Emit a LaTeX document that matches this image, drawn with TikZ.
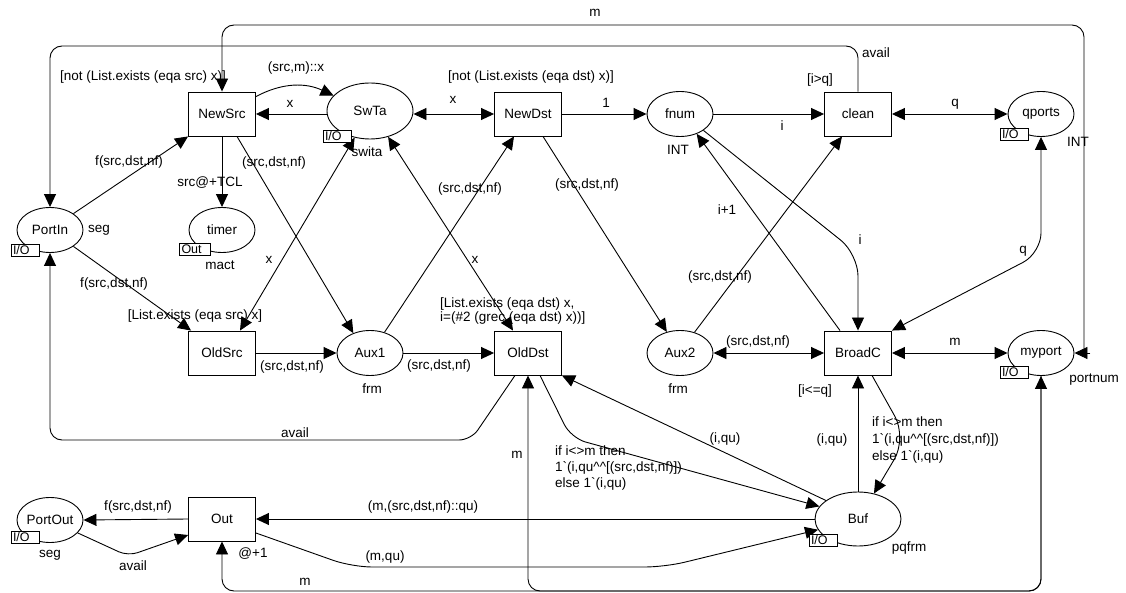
\documentclass[tikz,border=0pt]{standalone}
\usepackage{fontspec}
\setmainfont{Liberation Sans}
\usetikzlibrary{arrows.meta,shapes.geometric}
\newcommand\lblfont{\fontsize{13.5}{16}\selectfont}
\newcommand\tagfont{\fontsize{12.5}{12}\selectfont}
\begin{document}
\begin{tikzpicture}[x=1pt,y=-1pt,
  trans/.style={draw, line width=0.9pt, minimum width=67pt, minimum height=44pt, inner sep=0pt, font=\lblfont},
  place/.style={draw, ellipse, line width=0.9pt, minimum width=66pt, minimum height=45pt, inner sep=0pt, font=\lblfont},
  bigplace/.style={place, minimum width=86pt, minimum height=56pt},
  plain/.style={line width=0.9pt},
  arc/.style={line width=0.9pt, -{Triangle[length=13pt,width=12pt]}},
  arcboth/.style={line width=0.9pt, {Triangle[length=13pt,width=12pt]}-{Triangle[length=13pt,width=12pt]}},
  lbl/.style={inner sep=0pt, font=\lblfont},
  tag/.style={draw, fill=white, line width=0.8pt, inner xsep=2pt, inner ysep=0pt, minimum height=12pt, align=left, font=\tagfont}
]
\useasboundingbox (0,0) rectangle (1126,593);
\fill[white] (0,0) rectangle (1126,593);

% nodes
\node[trans] (NewSrc) at (222,114) {NewSrc};
\node[bigplace] (SwTa) at (370,111) {SwTa};
\node[trans] (NewDst) at (528,114) {NewDst};
\node[place] (fnum) at (680,114) {fnum};
\node[trans] (clean) at (858,114) {clean};
\node[place] (qports) at (1041,114) {qports};
\node[place] (PortIn) at (50,230) {PortIn};
\node[place] (timer) at (222,230) {timer};
\node[trans] (OldSrc) at (222,353) {OldSrc};
\node[place] (Aux1) at (370,353) {Aux1};
\node[trans] (OldDst) at (528,353) {OldDst};
\node[place] (Aux2) at (680,353) {Aux2};
\node[trans] (BroadC) at (858,353) {BroadC};
\node[place] (myport) at (1041,353) {myport};
\node[place] (PortOut) at (50,520) {PortOut};
\node[trans] (Out) at (222,519) {Out};
\node[bigplace, minimum height=54pt] (Buf) at (858,519) {Buf};

% connectors
\draw[arc] (SwTa.west |- NewSrc.east) -- (NewSrc.east);
\draw[arc] ([yshift=-5pt]NewSrc.north east) to[out=28,in=155] (SwTa.157);
\draw[arcboth] (SwTa.east |- NewDst.west) -- (NewDst.west);
\draw[arc] (NewDst.east) -- (fnum.west);
\draw[arc] (fnum.east) -- (clean.west);
\draw[arcboth] (clean.east) -- (qports.west);
\draw[plain, rounded corners=12pt, {Triangle[length=13pt,width=12pt]}-] (NewSrc.north) -- (222,25) -- (1084,25) -- (1084,353);
\draw[arc] ([xshift=16pt]myport.east) -- (myport.east);
\draw[arc, rounded corners=12pt] (clean.north) -- (858,46) -- (50,46) -- (PortIn.north);
\draw[arc] (PortIn.35) -- (NewSrc.south west);
\draw[arc] (NewSrc.south) -- (timer.north);
\draw[arc] ([xshift=15pt]NewSrc.south) -- (Aux1.130);
\draw[arcboth] (SwTa.240) -- ([xshift=18pt]OldSrc.north);
\draw[arcboth] (SwTa.305) -- ([xshift=-15pt]OldDst.north);
\draw[arc] (PortIn.-35) -- ([xshift=3pt]OldSrc.north west);
\draw[arc] (Aux1.55) -- ([xshift=-14pt]NewDst.south);
\draw[arc] ([xshift=15pt]NewDst.south) -- (Aux2.122);
\draw[arc] (OldSrc.east) -- (Aux1.west);
\draw[arc] (Aux1.east) -- (OldDst.west);
\draw[arc] (Aux2.55) -- ([xshift=-16pt]clean.south);
\draw[arcboth] (Aux2.east) -- (BroadC.west);
\draw[arc] ([xshift=-18pt]BroadC.north) -- (fnum.-50);
\draw[arc, rounded corners=22pt] (fnum.-35) -- (858,254) -- (BroadC.north);
\draw[arcboth, rounded corners=20pt] (qports.south) -- (1041,253) -- (BroadC.north east);
\draw[arcboth] (BroadC.east) -- (myport.west);
\draw[arcboth, rounded corners=12pt] (OldDst.south) -- (528,591) -- (1041,591) -- (myport.south);
\draw[arc, rounded corners=12pt] (myport.south) -- (1041,591) -- (222,591) -- (Out.south);
\draw[arc] (Out.west) -- (PortOut.east);
\draw[arc, rounded corners=10pt] (PortOut.-25) -- (128,556) -- ([yshift=-16pt]Out.west);
\draw[arc] (Buf.west) -- (Out.east);
\draw[arc, rounded corners=20pt] ([yshift=-14pt]Out.east) -- (352,567) -- (665,567) -- (Buf.195);
\draw[arc, rounded corners=15pt] ([xshift=12pt]OldDst.south) -- (571,438) -- (Buf.162);
\draw[arc] (Buf.150) -- (OldDst.south east);
\draw[arc] (Buf.north) -- (BroadC.south);
\draw[arc, rounded corners=25pt] ([xshift=14pt]BroadC.south) -- (907,438) -- (Buf.58);
\draw[arc, rounded corners=12pt] ([xshift=-13pt]OldDst.south) -- (471,440) -- (50,440) -- (PortIn.south);

% labels
\node[lbl] at (143,77) {[not (List.exists (eqa src) x)]};
\node[lbl] at (296,68) {(src,m)::x};
\node[lbl] at (290,104) {x};
\node[lbl] at (129,162) {f(src,dst,nf)};
\node[lbl] at (210,183) {src@+TCL};
\node[lbl] at (274,163) {(src,dst,nf)};
\node[lbl] at (367,152) {swita};
\node[lbl] at (531,77) {[not (List.exists (eqa dst) x)]};
\node[lbl] at (453,100) {x};
\node[lbl] at (606,103) {1};
\node[lbl] at (470,189) {(src,dst,nf)};
\node[lbl] at (587,185) {(src,dst,nf)};
\node[lbl] at (678,150) {INT};
\node[lbl] at (820,80) {[i>q]};
\node[lbl] at (876,53) {avail};
\node[lbl] at (955,104) {q};
\node[lbl] at (782,126) {i};
\node[lbl] at (1078,142) {INT};
\node[lbl] at (595,13) {m};
\node[lbl] at (99,230) {seg};
\node[lbl] at (220,265) {mact};
\node[lbl] at (269,260) {x};
\node[lbl] at (114,284) {f(src,dst,nf)};
\node[lbl] at (195,316) {[List.exists (eqa src) x]};
\node[lbl] at (292,367) {(src,dst,nf)};
\node[lbl] at (372,389) {frm};
\node[lbl] at (475,260) {x};
\node[lbl, align=left, anchor=west, font=\fontsize{13.5}{14.5}\selectfont] at (440,311) {[List.exists (eqa dst) x,\\i=(\#2 (grec (eqa dst) x))]};
\node[lbl] at (439,366) {(src,dst,nf)};
\node[lbl] at (727,210) {i+1};
\node[lbl] at (720,277) {(src,dst,nf)};
\node[lbl] at (758,342) {(src,dst,nf)};
\node[lbl] at (678,389) {frm};
\node[lbl] at (860,240) {i};
\node[lbl] at (1023,251) {q};
\node[lbl] at (955,342) {m};
\node[lbl] at (1094,380) {portnum};
\node[lbl] at (815,391) {[i<=q]};
\node[lbl] at (295,433) {avail};
\node[lbl] at (138,507) {f(src,dst,nf)};
\node[lbl] at (50,555) {seg};
\node[lbl] at (133,566) {avail};
\node[lbl] at (253,554) {@+1};
\node[lbl] at (305,582) {m};
\node[lbl] at (423,507) {(m,(src,dst,nf)::qu)};
\node[lbl] at (385,557) {(m,qu)};
\node[lbl] at (517,455) {m};
\node[lbl, align=left, anchor=west, font=\fontsize{13.5}{16.3}\selectfont] at (555,468) {if i<>m then\\1\textasciigrave(i,qu\textasciicircum\textasciicircum[(src,dst,nf)])\\else 1\textasciigrave(i,qu)};
\node[lbl] at (725,439) {(i,qu)};
\node[lbl] at (832,440) {(i,qu)};
\node[lbl, align=left, anchor=west, font=\fontsize{13.5}{16.7}\selectfont] at (872,440) {if i<>m then\\1\textasciigrave(i,qu\textasciicircum\textasciicircum[(src,dst,nf)])\\else 1\textasciigrave(i,qu)};
\node[lbl] at (909,548) {pqfrm};

% port tags
\node[tag, text width=24pt] at (337,136) {I/O};
\node[tag, text width=24pt] at (1014,134) {I/O};
\node[tag, text width=24pt] at (1014,372) {I/O};
\node[tag, text width=24pt] at (25,250) {I/O};
\node[tag, text width=27pt] at (195,249) {Out};
\node[tag, text width=24pt] at (25,537) {I/O};
\node[tag, text width=24pt] at (823,540) {I/O};
\end{tikzpicture}
\end{document}
